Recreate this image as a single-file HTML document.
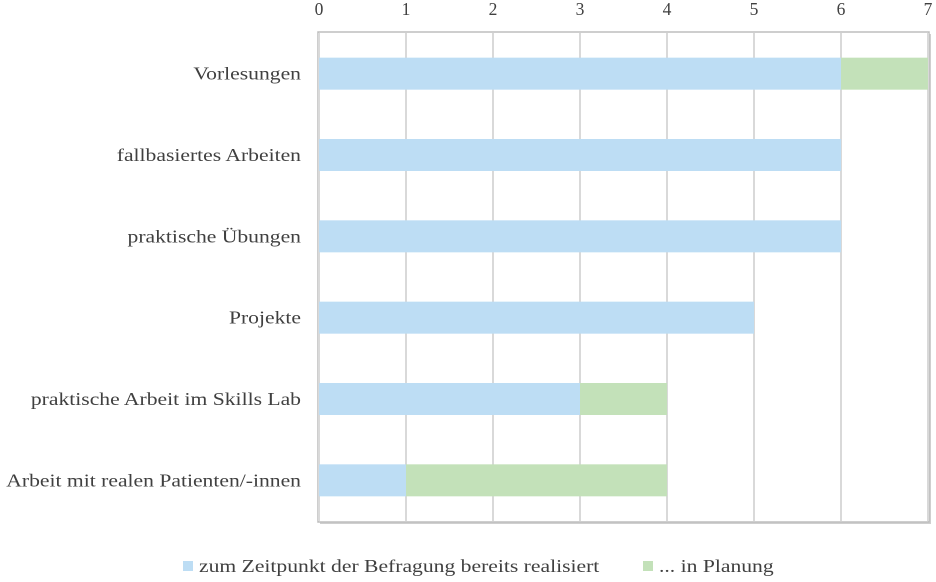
<!DOCTYPE html>
<html><head><meta charset="utf-8"><style>
body{margin:0;background:#fff;}
svg text{font-family:"Liberation Serif",serif;font-size:17.5px;fill:#404040;}
</style></head><body>
<svg width="936" height="577">
<g id="plot"></g>
</svg>
<script>
const categories=["Vorlesungen","fallbasiertes Arbeiten","praktische Übungen","Projekte","praktische Arbeit im Skills Lab","Arbeit mit realen Patienten/-innen"];
const realisiert=[6,6,6,5,3,1];
const planung=[1,0,0,0,1,3];
const ticks=[0,1,2,3,4,5,6,7];
const svg=document.querySelector('svg');
const NS='http://www.w3.org/2000/svg';
const x0=319,x1=928,y0=33,y1=521;
const xs=v=>x0+(x1-x0)*v/7;
const band=(y1-y0)/categories.length;
const yc=i=>y0+band*(i+0.5);
function el(t,a,p){const e=document.createElementNS(NS,t);for(const k in a)e.setAttribute(k,a[k]);(p||svg).appendChild(e);return e;}
function widen(t){const w=t.getComputedTextLength();t.setAttribute('textLength',w*1.235);t.setAttribute('lengthAdjust','spacingAndGlyphs');}
const sh=el('rect',{x:x0+1,y:y0+1,width:x1-x0+2,height:y1-y0+2,fill:'#cfcfcf'});


const fr=el('rect',{x:x0-1,y:y0-1,width:x1-x0+2,height:y1-y0+2,fill:'#fff',stroke:'#bdbdbd','stroke-width':1.5});


ticks.forEach(t=>{
 const g=el('line',{x1:xs(t),x2:xs(t),y1:y0,y2:y1,stroke:'#d9d9d9','stroke-width':2});
 
 
 const tx=el('text',{x:xs(t),y:15,'text-anchor':'middle','font-size':'18.5'});tx.textContent=t;
 
 
});
categories.forEach((c,i)=>{
 const y=yc(i);
 const b=el('rect',{x:xs(0),y:y-16,width:xs(realisiert[i])-xs(0),height:32,fill:'#bdddf4'});
 
 
 if(planung[i]>0){
  const p=el('rect',{x:xs(realisiert[i]),y:y-16,width:xs(realisiert[i]+planung[i])-xs(realisiert[i]),height:32,fill:'#c3e1b9'});
  
  
 }
 const l=el('text',{x:301,y:y+6,'text-anchor':'end'});l.textContent=c;
 
 
 widen(l);
});
</script>
<svg id="lg" style="position:absolute;left:0;top:0" width="936" height="577">
<rect x="183" y="561" width="10" height="10" fill="#bdddf4"/>
<text x="199" y="572">zum Zeitpunkt der Befragung bereits realisiert</text>
<rect x="643" y="561" width="10" height="10" fill="#c3e1b9"/>
<text x="659" y="572">... in Planung</text>
</svg>
<script>
document.querySelectorAll('#lg text').forEach(widen);
</script>
</body></html>
